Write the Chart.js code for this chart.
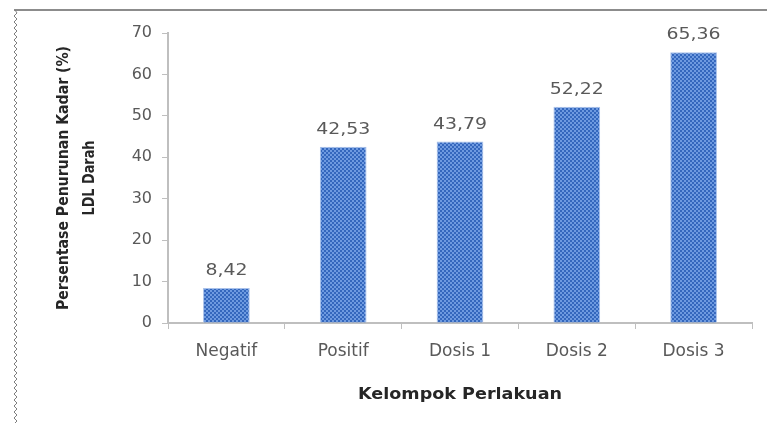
<!DOCTYPE html>
<html>
<head>
<meta charset="utf-8">
<script src="https://cdn.jsdelivr.net/npm/chart.js@4"></script>
<style>
  html, body { margin: 0; padding: 0; background: #ffffff; }
  #wrap { width: 767px; height: 423px; position: relative; }
</style>
</head>
<body>
<div id="wrap"><canvas id="chartLDL" width="767" height="423"></canvas></div>
<script>
// data
const kelompok = ['Negatif', 'Positif', 'Dosis 1', 'Dosis 2', 'Dosis 3'];
const penurunan = [8.42, 42.53, 43.79, 52.22, 65.36];
const yTicks = [0, 10, 20, 30, 40, 50, 60, 70];

const FONT = '"DejaVu Sans", Verdana, sans-serif';
const TEXT_GRAY = '#595959';
const AXIS_GRAY = '#bfbfbf';

// checkered fill like the excel pattern
function makePattern() {
    const c = document.createElement('canvas');
    c.width = 4; c.height = 4;
    const g = c.getContext('2d');
    g.fillStyle = '#3467bd';
    g.fillRect(0, 0, 4, 4);
    g.fillStyle = '#6e9ae0';
    g.fillRect(0, 0, 2, 2);
    g.fillRect(2, 2, 2, 2);
    return g.createPattern(c, 'repeat');
}

// draw text with a horizontal stretch factor
function stretchText(ctx, txt, x, y, sx) {
    ctx.save();
    ctx.translate(x, y);
    ctx.scale(sx, 1);
    ctx.fillText(txt, 0, 0);
    ctx.restore();
}

// draw text squeezed/stretched to a given width
function fitText(ctx, txt, x, y, width) {
    stretchText(ctx, txt, x, y, width / ctx.measureText(txt).width);
}

// frame: grey top line + zigzag left edge
const framePlugin = {
    id: 'frame',
    beforeDraw(chart) {
        const ctx = chart.ctx;
        ctx.save();
        ctx.strokeStyle = '#8c8c8c';
        ctx.lineWidth = 2;
        ctx.beginPath();
        ctx.moveTo(14, 10);
        ctx.lineTo(767, 10);
        ctx.stroke();
        ctx.lineWidth = 1;
        ctx.strokeStyle = '#7f7f7f';
        ctx.beginPath();
        ctx.moveTo(15, 10);
        for (let y = 10; y < 423; y += 3) {
            ctx.lineTo((Math.floor((y - 10) / 3) % 2) ? 14 : 17, y + 3);
        }
        ctx.stroke();
        ctx.restore();
    }
};

// value labels with comma decimals + axis titles
const labelPlugin = {
    id: 'labels',
    afterDatasetsDraw(chart) {
        const ctx = chart.ctx;
        const meta = chart.getDatasetMeta(0);
        ctx.save();
        ctx.font = '16px ' + FONT;
        ctx.fillStyle = TEXT_GRAY;
        ctx.textAlign = 'center';
        ctx.textBaseline = 'bottom';
        meta.data.forEach((bar, i) => {
            const txt = penurunan[i].toFixed(2).replace('.', ',');
            stretchText(ctx, txt, bar.x, bar.y - 9, 1.18);
        });

        // x title
        ctx.font = 'bold 15px ' + FONT;
        ctx.fillStyle = '#262626';
        ctx.textBaseline = 'middle';
        fitText(ctx, 'Kelompok Perlakuan', 460, 395, 204);

        // y title, two lines rotated
        ctx.translate(77, 178);
        ctx.rotate(-Math.PI / 2);
        ctx.font = 'bold 15px "Liberation Sans Narrow", "DejaVu Sans Condensed", sans-serif';
        fitText(ctx, 'Persentase Penurunan Kadar (%)', 0, -13, 264);
        fitText(ctx, 'LDL Darah', 0, 13, 75);
        ctx.restore();
    }
};

const ctx = document.getElementById('chartLDL');
new Chart(ctx, {
    type: 'bar',
    data: {
        labels: kelompok,
        datasets: [{
            data: penurunan,
            backgroundColor: makePattern(),
            borderColor: '#a9c1ea',
            borderWidth: 1,
            categoryPercentage: 1.0,
            barPercentage: 0.4
        }]
    },
    options: {
        responsive: false,
        animation: false,
        layout: { padding: { top: 33, right: 15, left: 0, bottom: 0 } },
        plugins: {
            legend: { display: false },
            tooltip: { enabled: false }
        },
        scales: {
            x: {
                afterFit: s => { s.height = 100; },
                grid: {
                    display: true,
                    drawOnChartArea: false,
                    offset: true,
                    color: AXIS_GRAY,
                    tickLength: 6
                },
                border: { color: AXIS_GRAY, width: 2, dash: [2, 1] },
                ticks: {
                    color: TEXT_GRAY,
                    font: { family: FONT, size: 17 },
                    padding: 12
                }
            },
            y: {
                min: 0,
                max: 70,
                afterFit: s => { s.width = 168; },
                afterBuildTicks: s => { s.ticks = yTicks.map(v => ({ value: v })); },
                grid: {
                    display: true,
                    drawOnChartArea: false,
                    color: AXIS_GRAY,
                    tickLength: 6
                },
                border: { color: AXIS_GRAY, width: 2, dash: [2, 1] },
                ticks: {
                    color: TEXT_GRAY,
                    font: { family: FONT, size: 16 },
                    padding: 10
                }
            }
        }
    },
    plugins: [framePlugin, labelPlugin]
});
</script>
</body>
</html>
